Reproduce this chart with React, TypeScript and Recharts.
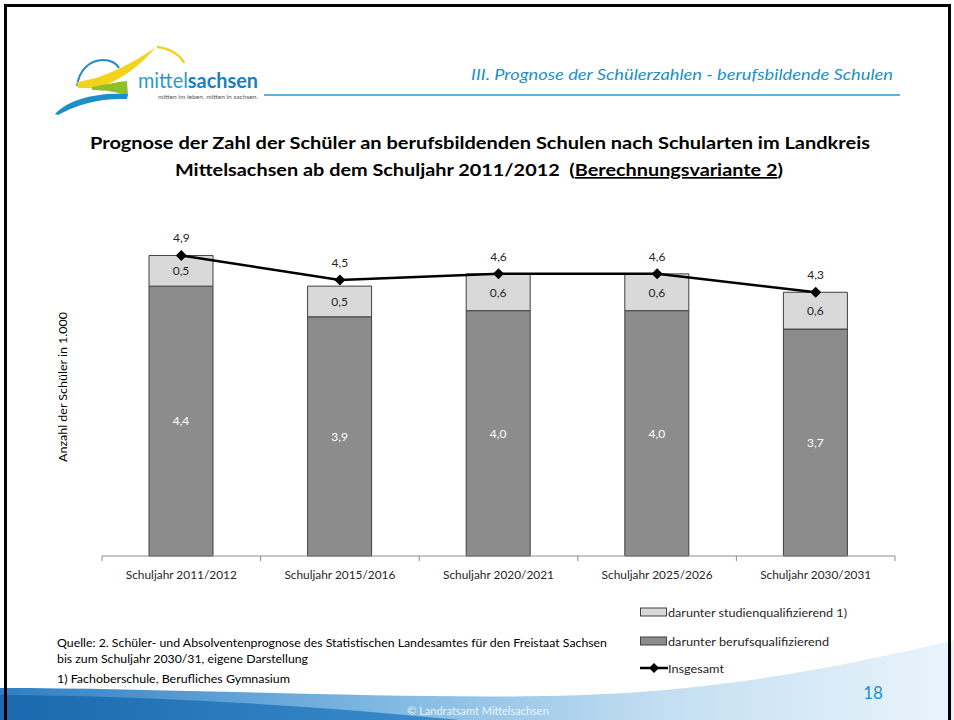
import React from 'react';
import { ComposedChart, Bar, Line, XAxis, YAxis, LabelList, Legend } from 'recharts';

const categories = [
  'Schuljahr 2011/2012',
  'Schuljahr 2015/2016',
  'Schuljahr 2020/2021',
  'Schuljahr 2025/2026',
  'Schuljahr 2030/2031',
];
const berufsqualifizierend = [4.4, 3.9, 4.0, 4.0, 3.7];
const studienqualifizierend = [0.5, 0.5, 0.6, 0.6, 0.6];
const insgesamt = [4.9, 4.5, 4.6, 4.6, 4.3];

const seriesNames = {
  studien: 'darunter studienqualifizierend 1)',
  berufs: 'darunter berufsqualifizierend',
  gesamt: 'Insgesamt',
};

const data = categories.map((name, i) => ({
  name,
  berufs: berufsqualifizierend[i],
  studien: studienqualifizierend[i],
  gesamt: insgesamt[i],
}));

const FONT = 'Lato, "Open Sans", sans-serif';
const W = 954;
const H = 720;
const MARGIN = { top: 188, right: 59, left: 102, bottom: 134 };
const BAND = (W - MARGIN.left - MARGIN.right) / categories.length;

const fmt = (v: any) => String(Number(v).toFixed(1)).replace('.', ',');

const Tick = (props: any) => {
  const { x, y, payload, index } = props;
  const axisY = y - 8;
  return (
    <g>
      <line x1={x - BAND / 2} x2={x - BAND / 2} y1={axisY} y2={axisY + 5} stroke="#8c8c8c" />
      {index === categories.length - 1 && (
        <line x1={x + BAND / 2} x2={x + BAND / 2} y1={axisY} y2={axisY + 5} stroke="#8c8c8c" />
      )}
      <text x={x} y={axisY + 23} textAnchor="middle" fontFamily={FONT} fontSize={12} fill="#262626" textLength={111} lengthAdjust="spacingAndGlyphs">
        {payload.value}
      </text>
    </g>
  );
};

const Diamond = (props: any) => {
  const { cx, cy, index } = props;
  if (cx == null || cy == null) return <g key={'d' + index} />;
  return <path key={'d' + index} d={`M${cx},${cy - 5.5} L${cx + 5.5},${cy} L${cx},${cy + 5.5} L${cx - 5.5},${cy} Z`} fill="#000" />;
};

const LegendContent = () => (
  <svg width={260} height={80} style={{ display: 'block' }}>
    <rect x={1.5} y={4} width={26} height={8} fill="#d9d9d9" stroke="#404040" strokeWidth={1} />
    <text x={29} y={12.5} fontFamily={FONT} fontSize={12} fill="#262626" textLength={179} lengthAdjust="spacingAndGlyphs">{seriesNames.studien}</text>
    <rect x={1.5} y={33} width={26} height={8} fill="#8c8c8c" stroke="#404040" strokeWidth={1} />
    <text x={29} y={41.5} fontFamily={FONT} fontSize={12} fill="#262626" textLength={161} lengthAdjust="spacingAndGlyphs">{seriesNames.berufs}</text>
    <line x1={1} x2={29} y1={64} y2={64} stroke="#000" strokeWidth={2.5} />
    <path d="M15,59 L20,64 L15,69 L10,64 Z" fill="#000" />
    <text x={29} y={68.5} fontFamily={FONT} fontSize={12} fill="#262626" textLength={56} lengthAdjust="spacingAndGlyphs">{seriesNames.gesamt}</text>
  </svg>
);

const Slide = () => (
  <svg width={W} height={H} style={{ position: 'absolute', left: 0, top: 0 }}>
    <defs>
      <linearGradient id="bandLight" x1="0" x2="1" y1="0" y2="0">
        <stop offset="0" stopColor="#2f7fc4" />
        <stop offset="0.4" stopColor="#7fb8e2" />
        <stop offset="0.7" stopColor="#c4dff2" />
        <stop offset="1" stopColor="#e9f4fb" />
      </linearGradient>
      <linearGradient id="bandDark" x1="0" x2="1" y1="0" y2="0">
        <stop offset="0" stopColor="#1a68ad" />
        <stop offset="1" stopColor="#3a8dcc" />
      </linearGradient>
    </defs>
    <rect x={0} y={0} width={W} height={H} fill="#fff" />
    {/* bottom band */}
    <path d="M0,688 C200,688 480,704 640,692 C770,682 880,658 954,640 L954,720 L0,720 Z" fill="url(#bandLight)" />
    <path d="M0,695 C140,696 300,704 460,720 L0,720 Z" fill="url(#bandDark)" />
    <text x={478} y={715} textAnchor="middle" fontFamily={FONT} fontSize={11} fill="#eaf4fb">© Landratsamt Mittelsachsen</text>
    {/* frame */}
    <rect x={5.5} y={5.5} width={944} height={730} fill="none" stroke="#000" strokeWidth={3} />

    {/* logo */}
    <path d="M77,86 C79,70 90,60 103,60 C110,60 116,63 119,68" fill="none" stroke="#1d8fc8" strokeWidth={2} />
    <path d="M77,82 C102,79 132,64 156,47 C142,64 122,80 98,88 L78,88 Z" fill="#f5d21c" />
    <path d="M157,47 C168,48 180,54 184,63" fill="none" stroke="#f5d21c" strokeWidth={2.5} />
    <path d="M92,87 C104,85 116,82 127,81 L128,96 C118,92 104,90 92,90 Z" fill="#8fbf28" />
    <path d="M55,114 C68,100 95,92 128,94 L127,99 C100,98 78,104 58,115 Z" fill="#1d8fc8" />
    <text x={138} y={88} fontFamily={FONT} fontSize={21} fill="#2c9bc9" textLength={120} lengthAdjust="spacingAndGlyphs">
      mittel<tspan fontWeight="bold" fill="#1b7fbd">sachsen</tspan>
    </text>
    <text x={158} y={99} fontFamily={FONT} fontSize={5.5} fill="#555" textLength={100} lengthAdjust="spacingAndGlyphs">mitten im leben. mitten in sachsen.</text>

    {/* header */}
    <text x={471} y={80} fontFamily={FONT} fontStyle="italic" fontSize={15} fill="#1e8fc6" textLength={422} lengthAdjust="spacingAndGlyphs">
      III. Prognose der Schülerzahlen - berufsbildende Schulen
    </text>
    <line x1={264} x2={900} y1={95} y2={95} stroke="#5fb3d9" strokeWidth={2} />

    {/* title */}
    <text x={90} y={149} fontFamily={FONT} fontWeight="bold" fontSize={17} fill="#000" textLength={780} lengthAdjust="spacingAndGlyphs">
      Prognose der Zahl der Schüler an berufsbildenden Schulen nach Schularten im Landkreis
    </text>
    <text x={175} y={176} fontFamily={FONT} fontWeight="bold" fontSize={17} fill="#000" textLength={608} lengthAdjust="spacingAndGlyphs" style={{ whiteSpace: 'pre' }}>
      {'Mittelsachsen ab dem Schuljahr 2011/2012  ('}<tspan textDecoration="underline" style={{ textDecoration: 'underline' }}>Berechnungsvariante 2</tspan>)
    </text>

    {/* y-axis title */}
    <text transform="translate(67,387) rotate(-90)" textAnchor="middle" fontFamily={FONT} fontSize={11} fill="#000" textLength={150} lengthAdjust="spacingAndGlyphs">
      Anzahl der Schüler in 1.000
    </text>

    {/* notes */}
    <text x={57} y={647} fontFamily={FONT} fontSize={11.5} fill="#000" textLength={550} lengthAdjust="spacingAndGlyphs">
      Quelle: 2. Schüler- und Absolventenprognose des Statistischen Landesamtes für den Freistaat Sachsen
    </text>
    <text x={57} y={663} fontFamily={FONT} fontSize={11.5} fill="#000" textLength={251} lengthAdjust="spacingAndGlyphs">
      bis zum Schuljahr 2030/31, eigene Darstellung
    </text>
    <text x={57} y={683} fontFamily={FONT} fontSize={11.5} fill="#000" textLength={233} lengthAdjust="spacingAndGlyphs">
      1) Fachoberschule, Berufliches Gymnasium
    </text>

    {/* page number */}
    <text x={873} y={699} textAnchor="middle" fontFamily={FONT} fontSize={17} fill="#1e8fc6">18</text>
  </svg>
);

export default function App() {
  return (
    <div style={{ position: 'absolute', left: 0, top: 0, width: W, height: H, overflow: 'hidden', background: '#fff' }}>
      <Slide />
      <div style={{ position: 'absolute', left: 0, top: 0 }}>
        <ComposedChart width={W} height={H} data={data} margin={MARGIN}>
          <XAxis dataKey="name" height={30} axisLine={{ stroke: '#8c8c8c' }} tickLine={false} tick={<Tick />} interval={0} />
          <YAxis hide domain={[0, 6]} />
          <Legend
            layout="horizontal"
            verticalAlign="middle"
            align="center"
            wrapperStyle={{ position: 'absolute', left: 639, top: 604, width: 260, height: 80 }}
            content={() => <LegendContent />}
          />
          <Bar dataKey="berufs" stackId="a" name={seriesNames.berufs} fill="#8c8c8c" stroke="#404040" strokeWidth={1} barSize={64} isAnimationActive={false}>
            <LabelList dataKey="berufs" position="center" formatter={fmt} fill="#ffffff" fontFamily={FONT} fontSize={12} />
          </Bar>
          <Bar dataKey="studien" stackId="a" name={seriesNames.studien} fill="#d9d9d9" stroke="#404040" strokeWidth={1} barSize={64} isAnimationActive={false}>
            <LabelList dataKey="studien" position="center" formatter={fmt} fill="#262626" fontFamily={FONT} fontSize={12} />
          </Bar>
          <Line dataKey="gesamt" name={seriesNames.gesamt} stroke="#000" strokeWidth={2.5} dot={Diamond} activeDot={false} isAnimationActive={false}>
            <LabelList dataKey="gesamt" position="top" offset={13} formatter={fmt} fill="#262626" fontFamily={FONT} fontSize={12} />
          </Line>
        </ComposedChart>
      </div>
    </div>
  );
}
